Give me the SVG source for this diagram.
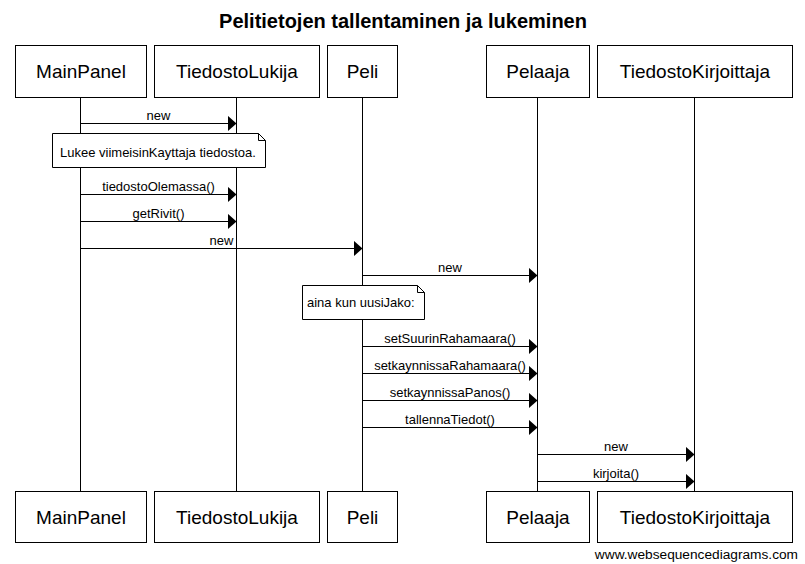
<svg xmlns="http://www.w3.org/2000/svg" width="805" height="564" viewBox="0 0 805 564">
<style>
.box{fill:#fff;stroke:#000;stroke-width:1}
.pt{font-family:"Liberation Sans",Arial,sans-serif;font-size:19px;fill:#000;text-anchor:middle}
.ml{font-family:"Liberation Sans",Arial,sans-serif;font-size:13px;fill:#000;text-anchor:middle}
.nt{font-family:"Liberation Sans",Arial,sans-serif;font-size:13px;fill:#000}
.ll{stroke:#000;stroke-width:1;fill:none}
.msg{stroke:#000;stroke-width:1;fill:none;marker-end:url(#ah)}
.note{fill:#fff;stroke:#000;stroke-width:1}
</style>
<defs>
<marker id="ah" markerUnits="userSpaceOnUse" markerWidth="10" markerHeight="18" refX="9" refY="8" orient="auto" viewBox="0 0 10 18">
<path d="M0,0 L9,8 L0,16 Z" fill="#000"/>
</marker>
</defs>
<rect width="805" height="564" fill="#fff"/>
<text x="403" y="28" font-family="'Liberation Sans',Arial,sans-serif" font-size="20" font-weight="bold" text-anchor="middle">Pelitietojen tallentaminen ja lukeminen</text>

<g id="lifelines">
<line class="ll" x1="80.5" y1="98" x2="80.5" y2="491"/>
<line class="ll" x1="236.5" y1="98" x2="236.5" y2="491"/>
<line class="ll" x1="362.5" y1="98" x2="362.5" y2="491"/>
<line class="ll" x1="537.5" y1="98" x2="537.5" y2="491"/>
<line class="ll" x1="694.5" y1="98" x2="694.5" y2="491"/>
</g>

<g id="MainPanel">
<rect class="box" x="15.5" y="45.5" width="131" height="52"/>
<text class="pt" x="81" y="78">MainPanel</text>
<rect class="box" x="15.5" y="491.5" width="131" height="51"/>
<text class="pt" x="81" y="524">MainPanel</text>
</g>
<g id="TiedostoLukija">
<rect class="box" x="154.5" y="45.5" width="165" height="52"/>
<text class="pt" x="237" y="78">TiedostoLukija</text>
<rect class="box" x="154.5" y="491.5" width="165" height="51"/>
<text class="pt" x="237" y="524">TiedostoLukija</text>
</g>
<g id="Peli">
<rect class="box" x="327.5" y="45.5" width="70" height="52"/>
<text class="pt" x="362.5" y="78">Peli</text>
<rect class="box" x="327.5" y="491.5" width="70" height="51"/>
<text class="pt" x="362.5" y="524">Peli</text>
</g>
<g id="Pelaaja">
<rect class="box" x="486.5" y="45.5" width="103" height="52"/>
<text class="pt" x="538" y="78">Pelaaja</text>
<rect class="box" x="486.5" y="491.5" width="103" height="51"/>
<text class="pt" x="538" y="524">Pelaaja</text>
</g>
<g id="TiedostoKirjoittaja">
<rect class="box" x="597.5" y="45.5" width="195" height="52"/>
<text class="pt" x="695" y="78">TiedostoKirjoittaja</text>
<rect class="box" x="597.5" y="491.5" width="195" height="51"/>
<text class="pt" x="695" y="524">TiedostoKirjoittaja</text>
</g>

<g id="connectors">
<line class="msg" x1="80.5" y1="123.5" x2="236.5" y2="123.5"/>
<text class="ml" x="158.5" y="120">new</text>
<line class="msg" x1="80.5" y1="194.5" x2="236.5" y2="194.5"/>
<text class="ml" x="158.5" y="191">tiedostoOlemassa()</text>
<line class="msg" x1="80.5" y1="221.5" x2="236.5" y2="221.5"/>
<text class="ml" x="158.5" y="218">getRivit()</text>
<line class="msg" x1="80.5" y1="248.5" x2="362.5" y2="248.5"/>
<text class="ml" x="221.5" y="245">new</text>
<line class="msg" x1="362.5" y1="275.5" x2="537.5" y2="275.5"/>
<text class="ml" x="450" y="272">new</text>
<line class="msg" x1="362.5" y1="346.5" x2="537.5" y2="346.5"/>
<text class="ml" x="450" y="343">setSuurinRahamaara()</text>
<line class="msg" x1="362.5" y1="373.5" x2="537.5" y2="373.5"/>
<text class="ml" x="450" y="370">setkaynnissaRahamaara()</text>
<line class="msg" x1="362.5" y1="400.5" x2="537.5" y2="400.5"/>
<text class="ml" x="450" y="397">setkaynnissaPanos()</text>
<line class="msg" x1="362.5" y1="427.5" x2="537.5" y2="427.5"/>
<text class="ml" x="450" y="424">tallennaTiedot()</text>
<line class="msg" x1="537.5" y1="454.5" x2="694.5" y2="454.5"/>
<text class="ml" x="616" y="451">new</text>
<line class="msg" x1="537.5" y1="481.5" x2="694.5" y2="481.5"/>
<text class="ml" x="616" y="478">kirjoita()</text>
</g>

<g id="note1">
<path class="note" d="M52.5,133.5 H258.5 L265.5,140.5 V167.5 H52.5 Z"/>
<path class="ll" d="M258.5,133.5 V140.5 H265.5"/>
<text class="nt" x="60" y="157">Lukee viimeisinKayttaja tiedostoa.</text>
</g>
<g id="note2">
<path class="note" d="M302.5,285.5 H417.5 L424.5,292.5 V319.5 H302.5 Z"/>
<path class="ll" d="M417.5,285.5 V292.5 H424.5"/>
<text class="nt" x="307" y="307">aina kun uusiJako:</text>
</g>

<text x="798" y="559" font-family="'Liberation Sans',Arial,sans-serif" font-size="13.7" text-anchor="end">www.websequencediagrams.com</text>
</svg>
